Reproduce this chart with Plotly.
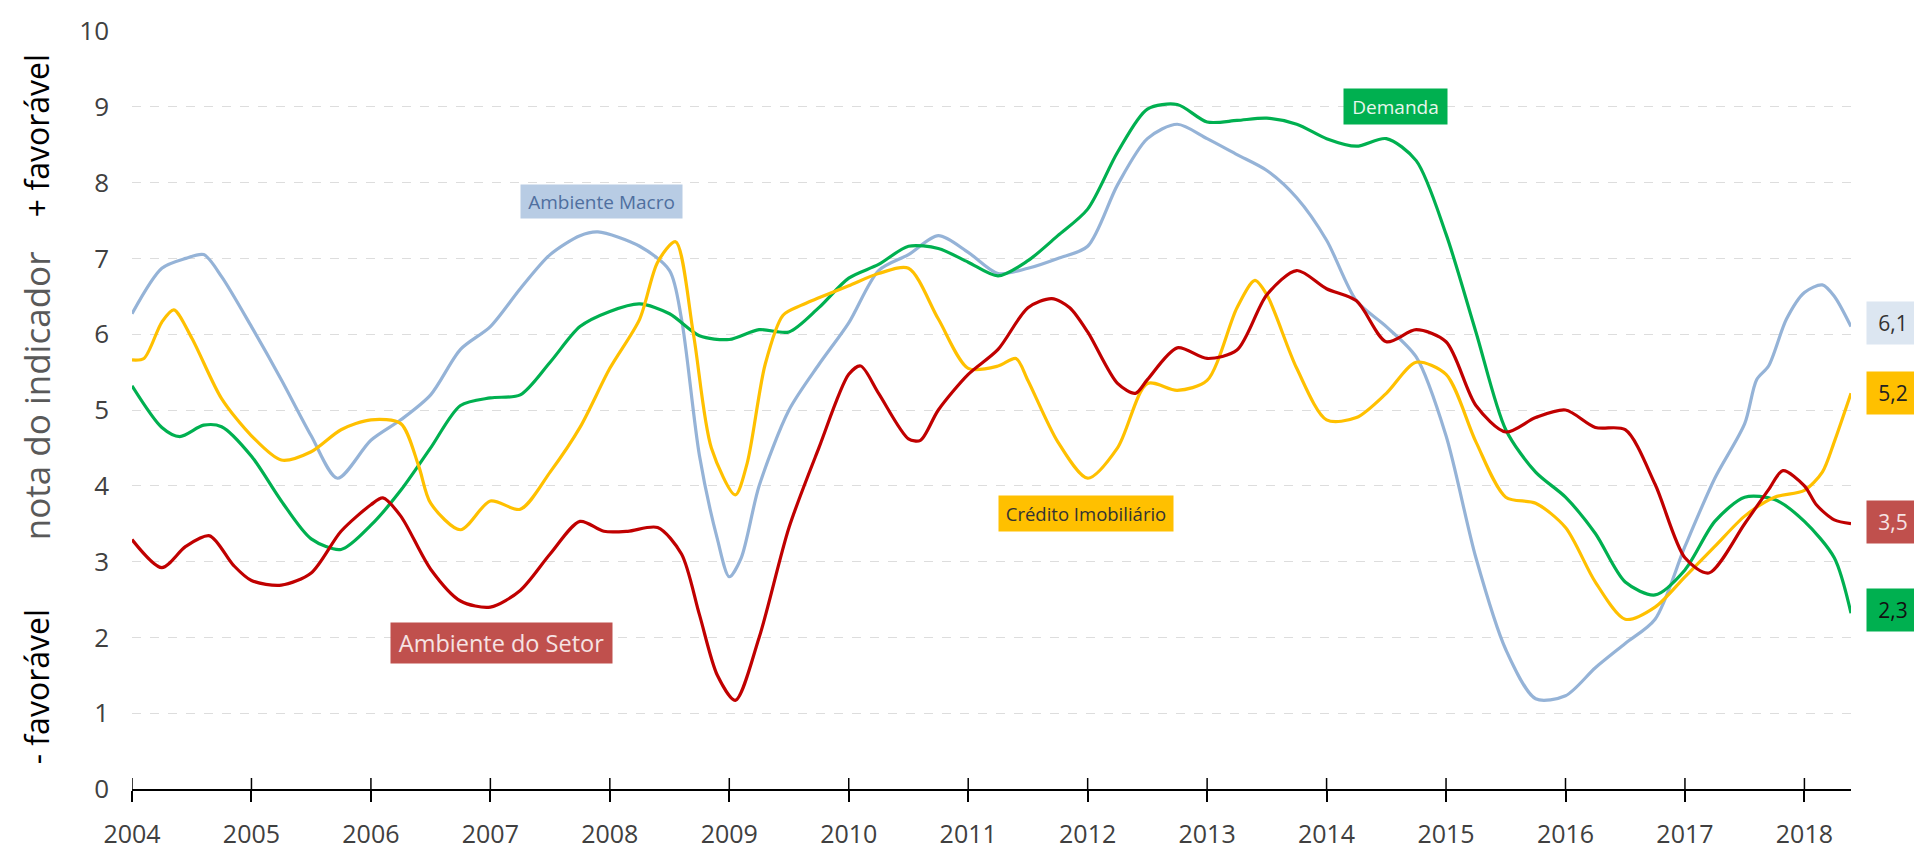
import plotly.graph_objects as go

# ---------------- data ----------------
years = list(range(2004, 2019))
year_labels = [str(y) for y in years]
y_ticks = list(range(0, 11))

macro_x = [2004, 2004.25, 2004.45, 2004.6, 2004.75, 2005, 2005.25, 2005.5, 2005.72, 2006, 2006.25, 2006.5,
           2006.75, 2007, 2007.25, 2007.5, 2007.75, 2007.9, 2008.25, 2008.5, 2008.6, 2008.75, 2008.9, 2009.0,
           2009.1, 2009.25, 2009.5, 2009.75, 2010, 2010.25, 2010.5, 2010.75, 2011, 2011.25, 2011.5, 2011.75,
           2012, 2012.25, 2012.5, 2012.75, 2013, 2013.25, 2013.5, 2013.75, 2014, 2014.25, 2014.5, 2014.75,
           2015, 2015.25, 2015.5, 2015.75, 2016, 2016.25, 2016.5, 2016.75, 2017, 2017.25, 2017.5, 2017.6,
           2017.7, 2017.85, 2018, 2018.15, 2018.25, 2018.39]
macro_y = [6.27, 6.87, 7.0, 7.05, 6.76, 6.1, 5.4, 4.66, 4.1, 4.6, 4.87, 5.2,
           5.8, 6.1, 6.6, 7.05, 7.3, 7.35, 7.16, 6.84, 6.2, 4.4, 3.3, 2.8,
           3.05, 4.0, 5.0, 5.6, 6.15, 6.84, 7.05, 7.3, 7.08, 6.8, 6.87, 7.0,
           7.16, 7.97, 8.58, 8.77, 8.58, 8.37, 8.16, 7.8, 7.24, 6.44, 6.1, 5.7,
           4.66, 3.05, 1.84, 1.19, 1.23, 1.6, 1.92, 2.24, 3.2, 4.1, 4.82, 5.4,
           5.58, 6.2, 6.55, 6.65, 6.5, 6.1]

demanda_x = [2004, 2004.25, 2004.4, 2004.6, 2004.75, 2005, 2005.25, 2005.5, 2005.75, 2006, 2006.25, 2006.5,
             2006.75, 2007, 2007.25, 2007.5, 2007.75, 2008, 2008.25, 2008.5, 2008.75, 2009, 2009.25, 2009.5,
             2009.75, 2010, 2010.25, 2010.5, 2010.75, 2011, 2011.25, 2011.5, 2011.75, 2012, 2012.25, 2012.5,
             2012.75, 2013, 2013.25, 2013.5, 2013.75, 2014, 2014.25, 2014.5, 2014.75, 2015, 2015.25, 2015.5,
             2015.75, 2016, 2016.25, 2016.5, 2016.75, 2017, 2017.25, 2017.5, 2017.75, 2018, 2018.25, 2018.39]
demanda_y = [5.32, 4.77, 4.65, 4.8, 4.78, 4.39, 3.8, 3.3, 3.16, 3.48, 3.94, 4.5,
             5.06, 5.16, 5.2, 5.63, 6.1, 6.3, 6.4, 6.27, 5.98, 5.93, 6.06, 6.03,
             6.35, 6.74, 6.92, 7.16, 7.13, 6.95, 6.77, 6.97, 7.3, 7.65, 8.4, 8.97,
             9.03, 8.8, 8.82, 8.85, 8.77, 8.58, 8.48, 8.58, 8.29, 7.32, 6.03, 4.74,
             4.18, 3.85, 3.37, 2.73, 2.56, 2.89, 3.53, 3.85, 3.82, 3.53, 3.05, 2.32]

credito_x = [2004, 2004.1, 2004.25, 2004.35, 2004.5, 2004.75, 2005, 2005.25, 2005.5, 2005.75, 2006, 2006.25,
             2006.4, 2006.5, 2006.75, 2007, 2007.25, 2007.5, 2007.75, 2008, 2008.25, 2008.4, 2008.55, 2008.7,
             2008.85, 2009.05, 2009.15, 2009.3, 2009.45, 2009.6, 2009.75, 2010, 2010.25, 2010.5, 2010.75, 2011,
             2011.25, 2011.4, 2011.5, 2011.75, 2012, 2012.25, 2012.5, 2012.75, 2013, 2013.25, 2013.4, 2013.5,
             2013.75, 2014, 2014.25, 2014.5, 2014.75, 2015, 2015.25, 2015.5, 2015.75, 2016, 2016.25, 2016.5,
             2016.75, 2017, 2017.25, 2017.5, 2017.75, 2018, 2018.15, 2018.25, 2018.39]
credito_y = [5.66, 5.68, 6.16, 6.32, 5.95, 5.15, 4.66, 4.34, 4.45, 4.74, 4.87, 4.82,
             4.26, 3.77, 3.42, 3.8, 3.69, 4.18, 4.77, 5.55, 6.2, 6.95, 7.22, 6.0,
             4.5, 3.88, 4.3, 5.6, 6.25, 6.38, 6.48, 6.64, 6.8, 6.87, 6.2, 5.55,
             5.58, 5.68, 5.39, 4.58, 4.1, 4.5, 5.35, 5.26, 5.39, 6.35, 6.71, 6.52,
             5.55, 4.87, 4.9, 5.22, 5.63, 5.47, 4.58, 3.85, 3.77, 3.45, 2.73, 2.24,
             2.4, 2.8, 3.2, 3.6, 3.85, 3.94, 4.18, 4.58, 5.22]

setor_x = [2004, 2004.25, 2004.45, 2004.65, 2004.85, 2005.0, 2005.25, 2005.5, 2005.75, 2006, 2006.1, 2006.25,
           2006.5, 2006.75, 2007, 2007.25, 2007.5, 2007.75, 2007.95, 2008.15, 2008.4, 2008.6, 2008.75, 2008.9,
           2009.05, 2009.25, 2009.5, 2009.75, 2010, 2010.1, 2010.25, 2010.5, 2010.6, 2010.75, 2011, 2011.25,
           2011.5, 2011.7, 2011.85, 2012, 2012.25, 2012.4, 2012.5, 2012.75, 2013, 2013.25, 2013.5, 2013.75,
           2014, 2014.25, 2014.5, 2014.75, 2015, 2015.25, 2015.5, 2015.75, 2016, 2016.25, 2016.5, 2016.75,
           2017, 2017.2, 2017.5, 2017.7, 2017.82, 2018, 2018.1, 2018.25, 2018.39]
setor_y = [3.29, 2.92, 3.2, 3.34, 2.95, 2.75, 2.69, 2.85, 3.4, 3.75, 3.84, 3.6,
           2.9, 2.48, 2.4, 2.62, 3.1, 3.53, 3.4, 3.4, 3.45, 3.1, 2.3, 1.5,
           1.17, 2.0, 3.45, 4.5, 5.47, 5.58, 5.22, 4.62, 4.6, 5.0, 5.47, 5.8,
           6.35, 6.47, 6.35, 6.03, 5.35, 5.22, 5.4, 5.82, 5.68, 5.79, 6.52, 6.84,
           6.6, 6.44, 5.9, 6.06, 5.9, 5.06, 4.71, 4.9, 5.0, 4.77, 4.74, 4.02,
           3.05, 2.85, 3.5, 3.95, 4.2, 4.0, 3.75, 3.55, 3.5]

series_names = ["Ambiente Macro", "Demanda", "Crédito Imobiliário", "Ambiente do Setor"]
last_labels = ["6,1", "5,2", "3,5", "2,3"]

# ---------------- styles ----------------
C_MACRO = "#95B3D7"
C_DEM = "#00B050"
C_CRED = "#FFC000"
C_SET = "#C00000"
FONT = "Open Sans"

fig = go.Figure()
for xs, ys, col, nm in [(macro_x, macro_y, C_MACRO, series_names[0]),
                        (demanda_x, demanda_y, C_DEM, series_names[1]),
                        (credito_x, credito_y, C_CRED, series_names[2]),
                        (setor_x, setor_y, C_SET, series_names[3])]:
    fig.add_trace(go.Scatter(x=xs, y=ys, mode="lines", name=nm,
                             line=dict(color=col, width=3.2, shape="spline", smoothing=0.8),
                             showlegend=False, hoverinfo="skip"))

X_END = 2018.39
# page has an 8px body margin: figure is sized/margined so the plot lands where the reference has it
fig.update_layout(
    width=1914, height=844,
    margin=dict(l=124, r=71, t=23, b=63),
    plot_bgcolor="white", paper_bgcolor="white",
    font=dict(family=FONT, color="#404040"),
    xaxis=dict(range=[2004, X_END], tickvals=years, ticktext=year_labels, automargin=False,
               showgrid=False, zeroline=False, showline=True, linecolor="#000000", linewidth=2,
               ticks="outside", ticklen=11, tickwidth=1.5, tickcolor="#000000",
               ticklabelstandoff=11,
               tickfont=dict(family=FONT, size=25, color="#404040")),
    yaxis=dict(range=[0, 10], tickvals=y_ticks, showgrid=True, gridcolor="#DDDDDD", automargin=False,
               griddash="dash", gridwidth=1, zeroline=False, showline=False, ticks="",
               ticklabelstandoff=22,
               tickfont=dict(family=FONT, size=26, color="#404040")),
)

# inner half of the crossing ticks on the x axis
for yv in years:
    fig.add_shape(type="line", xref="x", yref="paper", x0=yv, x1=yv, y0=0, y1=0.0145,
                  line=dict(color="#000000", width=1.5))

# series labels
boxes = [
    (series_names[0], 2007.93, 7.75, "#B8CCE4", "#4F6F9F", 161, 33, 19),
    (series_names[2], 2011.99, 3.64, "#FFC000", "#333333", 174, 35, 18.5),
    (series_names[3], 2007.09, 1.92, "#C0504D", "#F6E3E3", 221, 40, 23.5),
    (series_names[1], 2014.58, 9.0, "#00B050", "#E8F6EC", 103, 35, 19),
]
for txt, xv, yv, bg, fc, w, h, fs in boxes:
    fig.add_annotation(x=xv, y=yv, xref="x", yref="y", text=txt, showarrow=False,
                       bgcolor=bg, width=w, height=h, borderpad=0,
                       font=dict(family=FONT, size=fs, color=fc))

# end value labels
ends = [
    (last_labels[0], 6.15, "#DCE6F1", "#333333"),
    (last_labels[1], 5.22, "#FFC000", "#222222"),
    (last_labels[2], 3.52, "#C0504D", "#F6E3E3"),
    (last_labels[3], 2.36, "#00B050", "#111111"),
]
for txt, yv, bg, fc in ends:
    fig.add_annotation(x=1.0087, y=yv, xref="paper", yref="y", xanchor="left", yanchor="middle",
                       text=txt, showarrow=False, bgcolor=bg, width=52, height=42, borderpad=0,
                       align="center", font=dict(family=FONT, size=21, color=fc))

# y axis titles
ytitles = [
    ("+ favorável", 8.62, "#000000", 32),
    ("nota do indicador", 5.19, "#595959", 35),
    ("- favorável", 1.35, "#000000", 32),
]
for txt, yv, col, fs in ytitles:
    fig.add_annotation(x=-0.0555, y=yv, xref="paper", yref="y", xanchor="center", yanchor="middle",
                       text=txt, textangle=-90, showarrow=False,
                       font=dict(family=FONT, size=fs, color=col))

fig.write_html("out.html")
